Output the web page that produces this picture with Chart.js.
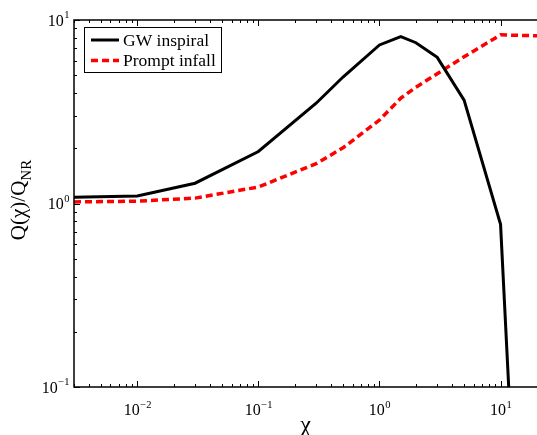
<!DOCTYPE html>
<html>
<head>
<meta charset="utf-8">
<script src="https://cdn.jsdelivr.net/npm/chart.js@4.4.1/dist/chart.umd.min.js"></script>
<style>
  body { margin: 0; background: #fff; }
  canvas { display: block; }
</style>
</head>
<body>
<canvas id="qChart" width="537" height="435" style="width:537px;height:435px"></canvas>
<script>
// chi values and Q(chi)/Q_NR
var chiGW = [0.003, 0.01, 0.03, 0.1, 0.3, 0.5, 1, 1.5, 2, 3, 5, 10, 12];
var gwInspiral = [1.08, 1.10, 1.29, 1.92, 3.52, 4.89, 7.31, 8.11, 7.52, 6.26, 3.66, 0.77, 0.07];
var chiPrompt = [0.003, 0.01, 0.03, 0.1, 0.3, 0.5, 1, 1.5, 2, 3, 5, 10, 20];
var promptInfall = [1.02, 1.03, 1.07, 1.23, 1.65, 2.01, 2.85, 3.75, 4.3, 5.1, 6.3, 8.3, 8.2];
var seriesNames = ['GW inspiral', 'Prompt infall'];
var xTickExps = [-2, -1, 0, 1];
var yTickExps = [-1, 0, 1];

var SERIF = "'Liberation Serif', 'Times New Roman', serif";

function pairs(xs, ys) {
    return xs.map(function (x, i) { return { x: x, y: ys[i] }; });
}

function supText(e) {
    return e < 0 ? '\u2212' + Math.abs(e) : String(e);
}

// draws "10" with a raised exponent; align 'center' or 'right'
function powLabel(ctx, e, x, baseY, align) {
    ctx.font = '16px ' + SERIF;
    var w1 = ctx.measureText('10').width;
    ctx.font = '10.5px ' + SERIF;
    var s = supText(e);
    var w2 = ctx.measureText(s).width;
    var left = align === 'center' ? x - (w1 + w2) / 2 : x - (w1 + w2);
    ctx.textAlign = 'left';
    ctx.textBaseline = 'alphabetic';
    ctx.font = '16px ' + SERIF;
    ctx.fillText('10', left, baseY);
    ctx.font = '10.5px ' + SERIF;
    ctx.fillText(s, left + w1 + 0.5, baseY - 7.5);
}

var decor = {
    id: 'decor',
    afterDatasetsDraw: function (chart) {
        var ctx = chart.ctx;
        var a = chart.chartArea;
        var xs = chart.scales.x, ys = chart.scales.y;
        ctx.save();
        ctx.fillStyle = '#000';
        ctx.strokeStyle = '#000';

        // frame (right side is cut off in the original)
        ctx.lineWidth = 1.5;
        ctx.beginPath();
        ctx.moveTo(a.right, a.top);
        ctx.lineTo(a.left, a.top);
        ctx.lineTo(a.left, a.bottom);
        ctx.lineTo(a.right, a.bottom);
        ctx.stroke();

        // inward ticks, major and minor
        ctx.lineWidth = 1;
        ctx.beginPath();
        for (var e = -3; e <= 1; e++) {
            for (var m = 1; m <= 9; m++) {
                var v = m * Math.pow(10, e);
                if (v < xs.min || v > xs.max) continue;
                var px = Math.round(xs.getPixelForValue(v)) + 0.5;
                var len = m === 1 ? 6 : 3;
                ctx.moveTo(px, a.bottom);
                ctx.lineTo(px, a.bottom - len);
                ctx.moveTo(px, a.top);
                ctx.lineTo(px, a.top + len);
            }
        }
        for (var e2 = -1; e2 <= 1; e2++) {
            for (var m2 = 1; m2 <= 9; m2++) {
                var v2 = m2 * Math.pow(10, e2);
                if (v2 < ys.min || v2 > ys.max) continue;
                var py = Math.round(ys.getPixelForValue(v2)) + 0.5;
                var len2 = m2 === 1 ? 6 : 3;
                ctx.moveTo(a.left, py);
                ctx.lineTo(a.left + len2, py);
            }
        }
        ctx.stroke();

        // tick labels
        xTickExps.forEach(function (e) {
            powLabel(ctx, e, xs.getPixelForValue(Math.pow(10, e)), a.bottom + 28, 'center');
        });
        yTickExps.forEach(function (e) {
            powLabel(ctx, e, 69, ys.getPixelForValue(Math.pow(10, e)) + 5.5, 'right');
        });

        // axis titles
        ctx.font = '24px ' + SERIF;
        ctx.textAlign = 'center';
        ctx.textBaseline = 'middle';
        ctx.fillText('\u03c7', (a.left + a.right) / 2, 426);

        ctx.save();
        ctx.translate(25, 200);
        ctx.rotate(-Math.PI / 2);
        ctx.font = '21px ' + SERIF;
        var main = 'Q(\u03c7)/Q';
        var wm = ctx.measureText(main).width;
        ctx.font = '15px ' + SERIF;
        var ws = ctx.measureText('NR').width;
        var x0 = -(wm + ws) / 2;
        ctx.textAlign = 'left';
        ctx.textBaseline = 'alphabetic';
        ctx.font = '21px ' + SERIF;
        ctx.fillText(main, x0, 0);
        ctx.font = '15px ' + SERIF;
        ctx.fillText('NR', x0 + wm, 6);
        ctx.restore();

        // legend box
        ctx.fillStyle = '#fff';
        ctx.fillRect(84.5, 27.5, 137, 45);
        ctx.lineWidth = 1;
        ctx.strokeStyle = '#000';
        ctx.strokeRect(84.5, 27.5, 137, 45);
        var rows = [40, 60.5];
        chart.data.datasets.forEach(function (ds, i) {
            ctx.strokeStyle = ds.borderColor;
            ctx.lineWidth = ds.borderWidth;
            ctx.setLineDash(ds.borderDash || []);
            ctx.beginPath();
            ctx.moveTo(91, rows[i]);
            ctx.lineTo(119, rows[i]);
            ctx.stroke();
            ctx.setLineDash([]);
            ctx.fillStyle = '#000';
            ctx.font = '17.5px ' + SERIF;
            ctx.textAlign = 'left';
            ctx.textBaseline = 'middle';
            ctx.fillText(ds.label, 123, rows[i] + 1);
        });
        ctx.restore();
    }
};

var cntxt = document.getElementById('qChart');
var myChart = new Chart(cntxt, {
    type: 'line',
    data: {
        datasets: [
            {
                label: seriesNames[0],
                data: pairs(chiGW, gwInspiral),
                borderColor: '#000000',
                borderWidth: 3,
                pointRadius: 0,
                tension: 0,
                fill: false
            },
            {
                label: seriesNames[1],
                data: pairs(chiPrompt, promptInfall),
                borderColor: '#ff0000',
                borderWidth: 3.5,
                borderDash: [7, 4],
                pointRadius: 0,
                tension: 0,
                fill: false
            }
        ]
    },
    options: {
        responsive: false,
        animation: false,
        devicePixelRatio: 1,
        layout: { padding: { left: 74, top: 20, right: 0, bottom: 48 } },
        plugins: { legend: { display: false }, tooltip: { enabled: false } },
        scales: {
            x: {
                type: 'logarithmic',
                min: 0.003,
                max: 20,
                ticks: { display: false },
                grid: { display: false },
                border: { display: false },
                afterFit: function (s) { s.height = 0; }
            },
            y: {
                type: 'logarithmic',
                min: 0.1,
                max: 10,
                ticks: { display: false },
                grid: { display: false },
                border: { display: false },
                afterFit: function (s) { s.width = 0; }
            }
        }
    },
    plugins: [decor]
});
</script>
</body>
</html>
